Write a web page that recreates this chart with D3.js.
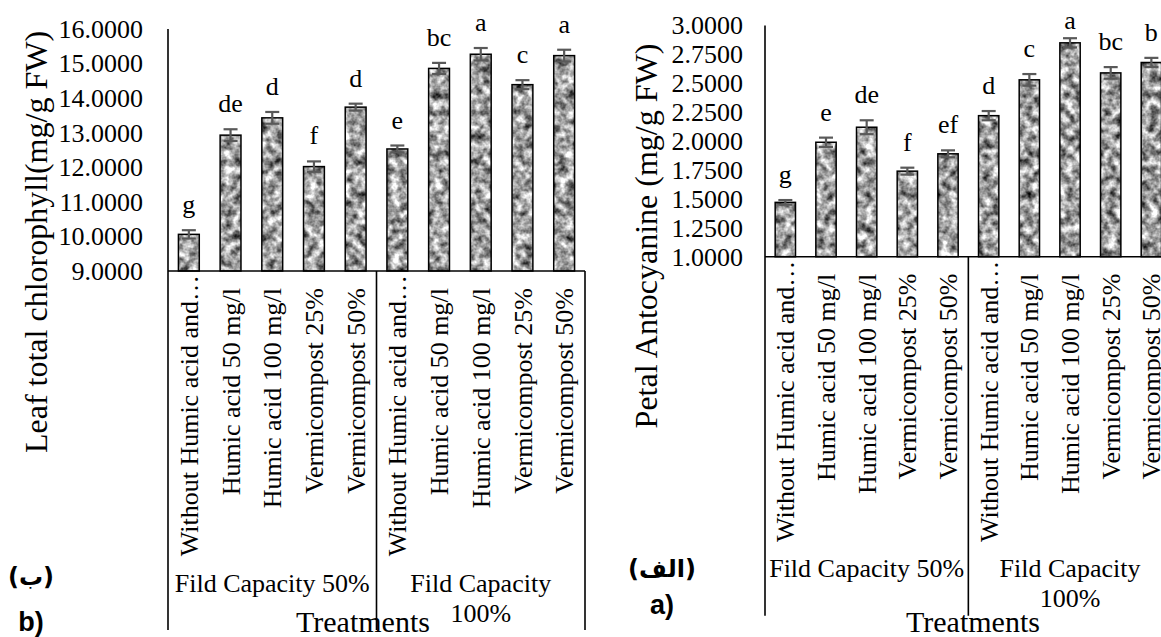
<!DOCTYPE html>
<head>
  <meta charset="utf-8">
  <script src="https://d3js.org/d3.v7.min.js"></script>
  <style>
    body { margin: 0; background: #fff; }
    svg { display: block; font-family: 'Liberation Serif', 'Times New Roman', serif; }
    svg text { font-family: 'Liberation Serif', 'Times New Roman', serif; }
  </style>
</head>
<body>
  <svg width="1161" height="637"></svg>
  <script>
    // categories
    const treatments = ['Without Humic acid and…', 'Humic acid 50 mg/l', 'Humic acid 100 mg/l', 'Vermicompost 25%', 'Vermicompost 50%'];
    const groups = ['Fild Capacity 50%', 'Fild Capacity 100%'];

    // b) leaf total chlorophyll
    const chlorophyll = [10.06, 12.93, 13.43, 12.02, 13.74, 12.53, 14.86, 15.27, 14.39, 15.23];
    const chlorophyllErr = [0.12, 0.17, 0.17, 0.15, 0.10, 0.10, 0.16, 0.18, 0.13, 0.17];
    const chlorophyllLetters = ['g', 'de', 'd', 'f', 'd', 'e', 'bc', 'a', 'c', 'a'];
    const chlorophyllTicks = [9, 10, 11, 12, 13, 14, 15, 16];

    // a) petal anthocyanin
    const anthocyanin = [1.47, 1.99, 2.12, 1.74, 1.89, 2.22, 2.53, 2.85, 2.59, 2.68];
    const anthocyaninErr = [0.02, 0.04, 0.06, 0.03, 0.03, 0.04, 0.05, 0.04, 0.05, 0.04];
    const anthocyaninLetters = ['g', 'e', 'de', 'f', 'ef', 'd', 'c', 'a', 'bc', 'b'];
    const anthocyaninTicks = [1, 1.25, 1.5, 1.75, 2, 2.25, 2.5, 2.75, 3];

    const svg = d3.select('svg');

    // grey granite-like fill for the bars
    const filter = svg.append('defs').append('filter')
      .attr('id', 'granite').attr('x', 0).attr('y', 0).attr('width', 1).attr('height', 1)
      .attr('color-interpolation-filters', 'sRGB');
    filter.append('feTurbulence')
      .attr('type', 'fractalNoise').attr('baseFrequency', 0.12).attr('numOctaves', 3).attr('seed', 7);
    filter.append('feColorMatrix')
      .attr('type', 'matrix')
      .attr('values', '1.5 0 0 0 -0.12  1.5 0 0 0 -0.12  1.5 0 0 0 -0.12  0 0 0 0 1');
    filter.append('feComposite').attr('in2', 'SourceGraphic').attr('operator', 'in');

    const keys = [];
    groups.forEach(g => treatments.forEach(t => keys.push(g + '|' + t)));

    function drawPanel(p) {
      const root = svg.append('g');

      const x = d3.scaleBand().domain(keys).range([p.x0, p.x1])
        .paddingInner(0.5).paddingOuter(0.25);
      const y = d3.scaleLinear().domain(d3.extent(p.ticks)).range([p.yBase, p.yTop]);
      const step = x.step();

      const rows = keys.map((k, i) => ({
        key: k,
        treatment: k.split('|')[1],
        value: p.values[i],
        err: p.errors[i],
        letter: p.letters[i],
      }));

      // y axis tick labels
      const axis = root.append('g')
        .attr('transform', `translate(${p.x0},0)`)
        .call(d3.axisLeft(y).tickValues(p.ticks).tickSize(0)
          .tickPadding(p.tickPad).tickFormat(d3.format('.4f')));
      axis.attr('font-family', null);
      axis.select('.domain').remove();
      axis.selectAll('text')
        .attr('fill', '#000')
        .style('font-size', '26px');

      // bars
      root.selectAll('.fill').data(rows).join('rect')
        .attr('class', 'fill')
        .attr('x', d => x(d.key))
        .attr('y', d => y(d.value))
        .attr('width', x.bandwidth())
        .attr('height', d => p.yBase - y(d.value))
        .attr('fill', '#999')
        .attr('filter', 'url(#granite)');
      root.selectAll('.outline').data(rows).join('rect')
        .attr('class', 'outline')
        .attr('x', d => x(d.key))
        .attr('y', d => y(d.value))
        .attr('width', x.bandwidth())
        .attr('height', d => p.yBase - y(d.value))
        .attr('fill', 'none')
        .attr('stroke', '#000')
        .attr('stroke-width', 1.5);

      // error bars
      const eb = root.selectAll('.err').data(rows).join('g')
        .attr('class', 'err')
        .attr('transform', d => `translate(${x(d.key) + x.bandwidth() / 2},0)`)
        .attr('stroke', '#595959')
        .attr('stroke-width', 2.2);
      eb.append('line')
        .attr('y1', d => y(d.value - d.err)).attr('y2', d => y(d.value + d.err));
      eb.append('line').attr('x1', -7).attr('x2', 7)
        .attr('y1', d => y(d.value + d.err)).attr('y2', d => y(d.value + d.err));
      eb.append('line').attr('x1', -7).attr('x2', 7)
        .attr('y1', d => y(d.value - d.err)).attr('y2', d => y(d.value - d.err));

      // significance letters (kept inside the picture)
      root.selectAll('.letter').data(rows).join('text')
        .attr('class', 'letter')
        .attr('x', d => x(d.key) + x.bandwidth() / 2)
        .attr('y', d => Math.max(29, y(d.value + d.err) - 17))
        .attr('text-anchor', 'middle')
        .style('font-size', '26px')
        .text(d => d.letter);

      // axis lines and category box
      const bottom = p.yBase + 359;
      const lines = root.append('g').attr('stroke', '#000').attr('stroke-width', 1.6);
      lines.append('line').attr('x1', p.x0).attr('x2', p.x0).attr('y1', p.yTop).attr('y2', bottom);
      lines.append('line').attr('x1', p.x0).attr('x2', p.x1).attr('y1', p.yBase).attr('y2', p.yBase);
      [5, 10].forEach(i => {
        lines.append('line')
          .attr('x1', p.x0 + i * step).attr('x2', p.x0 + i * step)
          .attr('y1', p.yBase).attr('y2', bottom);
      });

      // rotated category labels
      root.selectAll('.cat').data(rows).join('text')
        .attr('class', 'cat')
        .attr('transform', d => {
          const off = d.treatment.endsWith('…') ? 4 : 17;
          return `translate(${x(d.key) + x.bandwidth() / 2},${p.yBase + off})rotate(-90)`;
        })
        .attr('dy', '0.35em')
        .attr('text-anchor', 'end')
        .style('font-size', '26px')
        .text(d => d.treatment);

      // group labels, wrapped when wider than the group
      groups.forEach((g, gi) => {
        const cx = p.x0 + (gi * 5 + 2.5) * step;
        const t = root.append('text')
          .attr('x', cx).attr('y', p.yBase + 320.5)
          .attr('text-anchor', 'middle')
          .style('font-size', '26px')
          .text(g);
        if (t.node().getComputedTextLength() > 5 * step - 8) {
          const cut = g.lastIndexOf(' ');
          t.text(null);
          t.append('tspan').attr('x', cx).text(g.slice(0, cut));
          t.append('tspan').attr('x', cx).attr('dy', 30).text(g.slice(cut + 1));
        }
      });

      // axis titles
      root.append('text')
        .attr('x', p.x0 + p.titleDx).attr('y', 632)
        .attr('text-anchor', 'middle')
        .style('font-size', '30px')
        .text('Treatments');
      root.append('text')
        .attr('transform', `translate(${p.yTitleX},${p.yTitleY})rotate(-90)`)
        .attr('dy', '0.35em')
        .attr('text-anchor', 'middle')
        .style('font-size', '32px')
        .text(p.yTitle);

      // panel markers
      root.append('text')
        .attr('x', p.markX).attr('y', p.arabicY)
        .attr('text-anchor', 'middle')
        .style('font-family', "'DejaVu Sans', sans-serif")
        .style('font-weight', 'bold')
        .style('font-size', '24px')
        .text(p.arabic);
      root.append('text')
        .attr('x', p.markX).attr('y', p.latinY)
        .attr('text-anchor', 'middle')
        .style('font-family', "'Liberation Sans', sans-serif")
        .style('font-weight', 'bold')
        .style('font-size', '27px')
        .text(p.latin);
    }

    drawPanel({
      values: chlorophyll, errors: chlorophyllErr, letters: chlorophyllLetters, ticks: chlorophyllTicks,
      x0: 168, x1: 585, yTop: 29, yBase: 271, tickPad: 25,
      titleDx: 195, yTitle: 'Leaf total chlorophyll(mg/g FW)', yTitleX: 36, yTitleY: 242,
      markX: 31, arabic: '(ب)', arabicY: 585, latin: 'b)', latinY: 631,
    });

    drawPanel({
      values: anthocyanin, errors: anthocyaninErr, letters: anthocyaninLetters, ticks: anthocyaninTicks,
      x0: 765, x1: 1171.7, yTop: 25.5, yBase: 256.7, tickPad: 22,
      titleDx: 208, yTitle: 'Petal Antocyanine (mg/g FW)', yTitleX: 646, yTitleY: 236,
      markX: 662, arabic: '(الف)', arabicY: 577, latin: 'a)', latinY: 614,
    });
  </script>
</body>
